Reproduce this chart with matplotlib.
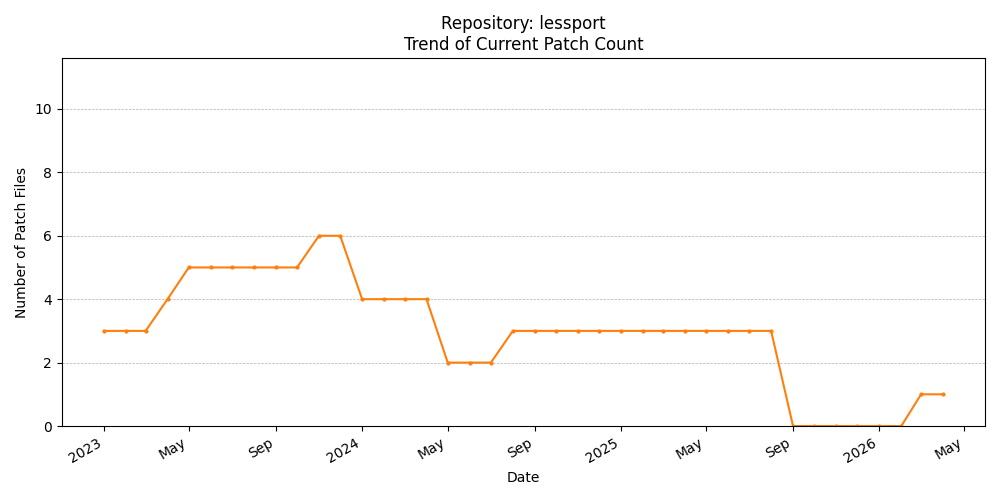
import matplotlib
matplotlib.use("Agg")
import matplotlib.pyplot as plt
import matplotlib.dates as mdates
import pandas as pd

dates = pd.date_range("2023-01-01", "2026-04-01", freq="MS")
counts = [3, 3, 3, 4, 5, 5, 5, 5, 5, 5, 6, 6,
          4, 4, 4, 4, 2, 2, 2, 3, 3, 3, 3, 3,
          3, 3, 3, 3, 3, 3, 3, 3, 0, 0, 0, 0,
          0, 0, 1, 1]

fig, ax = plt.subplots(figsize=(10, 5), dpi=100)
ax.plot(dates, counts, marker="o", markersize=2, color="#ff7f0e", linewidth=1.5)
ax.set_title("Repository: lessport\nTrend of Current Patch Count")
ax.set_xlabel("Date")
ax.set_ylabel("Number of Patch Files")
ax.set_ylim(0, 11.6)
ax.grid(axis="y", linestyle="--", linewidth=0.5, color="#b0b0b0")
loc = mdates.AutoDateLocator()
ax.xaxis.set_major_locator(loc)
ax.xaxis.set_major_formatter(mdates.ConciseDateFormatter(loc))
fig.autofmt_xdate()
fig.tight_layout()
fig.savefig("out.png")
